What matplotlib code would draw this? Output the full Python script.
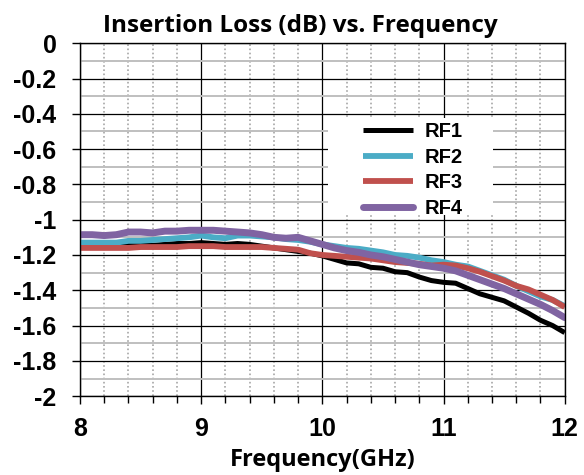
import matplotlib
matplotlib.use("Agg")
import matplotlib.pyplot as plt
from matplotlib.patches import Rectangle
from matplotlib.ticker import MultipleLocator

freq = [8.0, 8.1, 8.2, 8.3, 8.4, 8.5, 8.6, 8.7, 8.8, 8.9,
        9.0, 9.1, 9.2, 9.3, 9.4, 9.5, 9.6, 9.7, 9.8, 9.9,
        10.0, 10.1, 10.2, 10.3, 10.4, 10.5, 10.6, 10.7, 10.8, 10.9,
        11.0, 11.1, 11.2, 11.3, 11.4, 11.5, 11.6, 11.7, 11.8, 11.9, 12.0]
rf1 = [-1.15, -1.15, -1.15, -1.15, -1.14, -1.145, -1.145, -1.14, -1.135, -1.135,
       -1.13, -1.135, -1.14, -1.135, -1.14, -1.15, -1.16, -1.17, -1.18, -1.19,
       -1.205, -1.225, -1.245, -1.25, -1.27, -1.275, -1.295, -1.30, -1.325, -1.345,
       -1.355, -1.36, -1.39, -1.42, -1.44, -1.46, -1.495, -1.53, -1.57, -1.60, -1.64]
rf2 = [-1.13, -1.13, -1.13, -1.13, -1.12, -1.12, -1.115, -1.11, -1.105, -1.10,
       -1.09, -1.10, -1.105, -1.09, -1.09, -1.095, -1.10, -1.11, -1.115, -1.125,
       -1.14, -1.15, -1.16, -1.165, -1.175, -1.185, -1.20, -1.205, -1.215, -1.23,
       -1.24, -1.255, -1.265, -1.29, -1.315, -1.34, -1.375, -1.405, -1.435, -1.455, -1.49]
rf3 = [-1.16, -1.16, -1.16, -1.16, -1.16, -1.155, -1.155, -1.155, -1.155, -1.15,
       -1.15, -1.15, -1.155, -1.155, -1.155, -1.155, -1.16, -1.165, -1.17, -1.19,
       -1.20, -1.205, -1.21, -1.215, -1.22, -1.23, -1.24, -1.245, -1.25, -1.26,
       -1.255, -1.26, -1.275, -1.295, -1.32, -1.345, -1.375, -1.395, -1.425, -1.455, -1.495]
rf4 = [-1.085, -1.085, -1.09, -1.085, -1.07, -1.07, -1.075, -1.065, -1.065, -1.06,
       -1.06, -1.06, -1.065, -1.07, -1.075, -1.085, -1.10, -1.105, -1.10, -1.12,
       -1.14, -1.16, -1.175, -1.185, -1.20, -1.21, -1.225, -1.24, -1.255, -1.265,
       -1.275, -1.29, -1.315, -1.34, -1.365, -1.39, -1.42, -1.45, -1.48, -1.515, -1.555]
labels = ["RF1", "RF2", "RF3", "RF4"]
colors = ["#000000", "#4bacc6", "#c0504d", "#8064a2"]
yticks = [0, -0.2, -0.4, -0.6, -0.8, -1, -1.2, -1.4, -1.6, -1.8, -2]
ytick_labels = ["0", "-0.2", "-0.4", "-0.6", "-0.8", "-1", "-1.2", "-1.4", "-1.6", "-1.8", "-2"]
xticks = [8, 9, 10, 11, 12]

fig = plt.figure(figsize=(5.84, 4.75), dpi=100)
ax = fig.add_axes([0.137, 0.166, 0.830, 0.743])

ax.set_xlim(8, 12)
ax.set_ylim(-2, 0)
ax.xaxis.set_minor_locator(MultipleLocator(0.2))
ax.yaxis.set_minor_locator(MultipleLocator(0.1))
ax.grid(which="major", axis="both", color="#000000", lw=0.9)
ax.grid(which="minor", axis="y", color="#bfbfbf", lw=1.4)
ax.grid(which="minor", axis="x", color="#a6a6a6", lw=1.2, ls=(0, (1, 1.5)))
ax.set_axisbelow(True)

# white block behind the legend, hides the grid there (as in the Excel original)
ax.add_patch(Rectangle((0.511, 0.513), 0.341, 0.275, transform=ax.transAxes,
                       facecolor="white", edgecolor="none", zorder=1))

widths = [3.6, 4.2, 4.2, 5.0]
for y, lab, c, w in zip([rf1, rf2, rf3, rf4], labels, colors, widths):
    ax.plot(freq, y, color=c, lw=w, label=lab, zorder=2,
            solid_capstyle="round" if lab == "RF4" else "butt")

for s in ax.spines.values():
    s.set_color("#000000")
    s.set_linewidth(1.0)

ax.tick_params(which="major", direction="out", length=6, width=1, colors="#000000")
ax.tick_params(which="minor", axis="x", direction="out", length=5, width=1)
ax.tick_params(which="minor", axis="y", length=0)
ax.tick_params(axis="y", pad=11)
ax.tick_params(axis="x", pad=9)
ax.set_xticks(xticks)
ax.set_xticklabels([str(v) for v in xticks])
ax.set_yticks(yticks)
ax.set_yticklabels(ytick_labels)
for t in ax.get_xticklabels() + ax.get_yticklabels():
    t.set_fontfamily("Liberation Sans")
    t.set_fontweight("bold")
    t.set_fontsize(18)

# Excel centres the title on the whole chart, not on the plot area
fig.text(0.514, 0.933, "Insertion Loss (dB) vs. Frequency", ha="center", va="baseline",
         fontfamily="Open Sans", fontweight="bold", fontsize=17.5)
ax.set_xlabel("Frequency(GHz)", fontfamily="Open Sans", fontweight="bold", fontsize=17,
              labelpad=5)

ax.legend(loc="upper left", bbox_to_anchor=(0.584, 0.776), frameon=False,
          handlelength=2.5, handletextpad=0.55, labelspacing=0.32, borderpad=0, borderaxespad=0,
          prop={"family": "Liberation Sans", "weight": "bold", "size": 14.5})

fig.savefig("out.png", dpi=100)
